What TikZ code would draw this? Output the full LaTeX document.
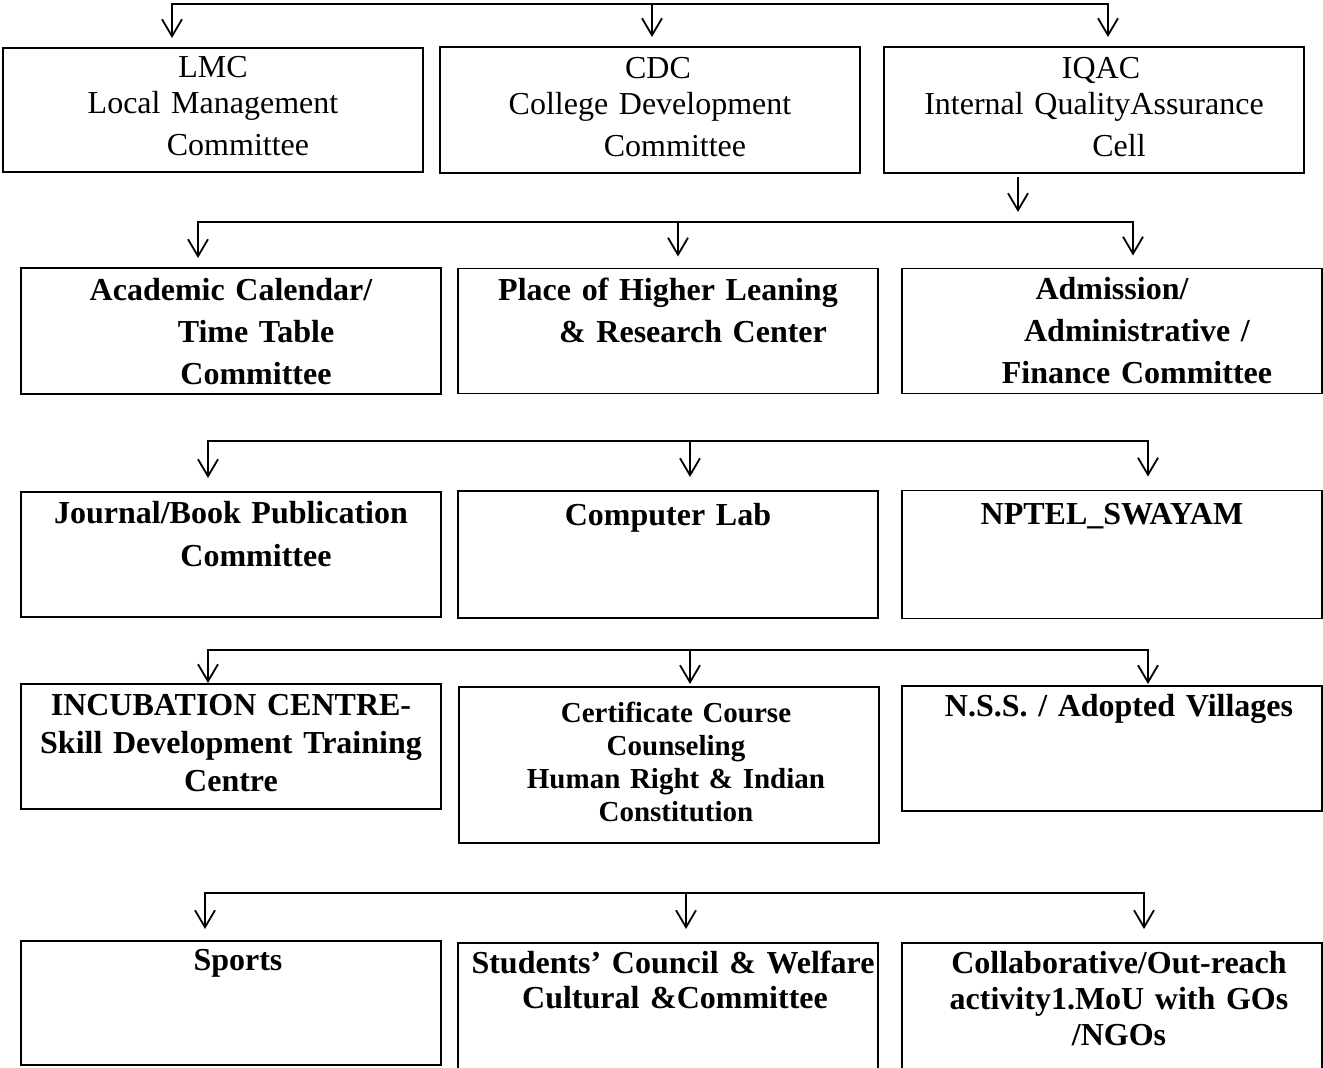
\documentclass[tikz,border=0pt]{standalone}
\usepackage{fontspec}
\setmainfont{Liberation Serif}
\usepackage{tikz}
\usetikzlibrary{arrows.meta, positioning, calc}

\newcommand{\indentline}{\hspace*{50pt}}

\begin{document}
\begin{tikzpicture}[
    x=1pt, y=-1pt,
    block/.style={draw, rectangle, line width=1.3pt, outer sep=0pt, minimum width=420pt, text width=420pt, inner sep=0pt, align=center, font=\fontsize{32}{42}\selectfont\bfseries},
    toprow/.style={font=\fontsize{32}{36}\selectfont},
    textpos/.style 2 args={text height=#1pt, text depth=#2pt},
    bus/.style={line width=1.5pt, line cap=rect},
    arrow/.style={line width=1.5pt, -{Straight Barb[length=17pt,width=20pt,line width=1.8pt]}}
]
\useasboundingbox (0,0) rectangle (1323,1068);

% Nodes
\node (lmc) [block, toprow, textpos={29}{95}, anchor=north west] at (3,48) {LMC\\Local Management\\[6pt]\indentline Committee};
\node (cdc) [block, toprow, textpos={31}{95}, right=17pt of lmc] {\hspace*{16pt}CDC\\College Development\\[6pt]\indentline Committee};
\node (iqac) [block, toprow, textpos={31}{95}, right=24pt of cdc] {\hspace*{14pt}IQAC\\Internal QualityAssurance\\[6pt]\indentline Cell};

\node (acad) [block, textpos={32}{94}, anchor=north west] at (21,268) {Academic Calendar/\\\indentline Time Table\\\indentline Committee};
\node (place) [block, textpos={32}{93}, right=17pt of acad] {Place of Higher Leaning\\\indentline\& Research Center};
\node (admin) [block, textpos={31}{94}, right=24pt of place] {Admission/\\\indentline Administrative /\\\indentline Finance Committee};

\node (journal) [block, textpos={31}{94}, anchor=north west] at (21,492) {Journal/Book Publication\\[1pt]\indentline Committee};
\node (lab) [block, textpos={34}{93}, right=17pt of journal] {Computer Lab};
\node (nptel) [block, textpos={34}{94}, right=24pt of lab] {NPTEL\_SWAYAM};

\node (incub) [block, textpos={31}{94}, font=\fontsize{32}{38}\selectfont\bfseries, anchor=north west] at (21,684) {INCUBATION CENTRE-\\Skill Development Training\\Centre};
\node (cert) [block, textpos={35}{121}, font=\fontsize{29}{33}\selectfont\bfseries, right=18pt of incub.north east, anchor=north west, yshift=-3pt] {\hspace*{14pt}Certificate Course\\\hspace*{14pt}Counseling\\\hspace*{14pt}Human Right \& Indian\\\hspace*{14pt}Constitution};
\node (nss) [block, textpos={30}{95}, right=23pt of cert.north east, anchor=north west, yshift=1pt] {\hspace*{14pt}N.S.S. / Adopted Villages};

\node (sports) [block, textpos={29}{95}, anchor=north west] at (21,941) {\hspace*{14pt}Sports};
\node (council) [block, textpos={30}{105}, font=\fontsize{32}{35}\selectfont\bfseries, right=17pt of sports.north east, anchor=north west, yshift=-2pt] {\hspace*{10pt}Students’ Council \& Welfare\\\hspace*{14pt}Cultural \&Committee};
\node (collab) [block, textpos={30}{105}, font=\fontsize{32}{36}\selectfont\bfseries, right=24pt of council.north east, anchor=north west] {\hspace*{14pt}Collaborative/Out-reach\\\hspace*{14pt}activity1.MoU with GOs\\\hspace*{14pt}/NGOs};

% Links
\coordinate (r1l) at (172,4);
\coordinate (r1m) at (652,4);
\coordinate (r1r) at (1108,4);
\draw[bus] (r1l) -- (r1r);
\draw[arrow, shorten >=10pt] (r1l) -- (r1l |- lmc.north);
\draw[arrow, shorten >=10pt] (r1m) -- (r1m |- cdc.north);
\draw[arrow, shorten >=10pt] (r1r) -- (r1r |- iqac.north);

\coordinate (iqacout) at (1018,212);
\draw[arrow, shorten <=4pt] (iqac.south -| iqacout) -- (iqacout);

\coordinate (r2l) at (198,222);
\coordinate (r2m) at (678,222);
\coordinate (r2r) at (1133,222);
\draw[bus] (r2l) -- (r2r);
\draw[arrow, shorten >=10pt] (r2l) -- (r2l |- acad.north);
\draw[arrow, shorten >=12pt] (r2m) -- (r2m |- place.north);
\draw[arrow, shorten >=13pt] (r2r) -- (r2r |- admin.north);

\coordinate (r3l) at (208,441);
\coordinate (r3m) at (690,441);
\coordinate (r3r) at (1148,441);
\draw[bus] (r3l) -- (r3r);
\draw[arrow, shorten >=14pt] (r3l) -- (r3l |- journal.north);
\draw[arrow, shorten >=14pt] (r3m) -- (r3m |- lab.north);
\draw[arrow, shorten >=14pt] (r3r) -- (r3r |- nptel.north);

\coordinate (r4l) at (208,650);
\coordinate (r4m) at (690,650);
\coordinate (r4r) at (1148,650);
\draw[bus] (r4l) -- (r4r);
\draw[arrow, shorten >=1pt] (r4l) -- (r4l |- incub.north);
\draw[arrow, shorten >=3pt] (r4m) -- (r4m |- cert.north);
\draw[arrow, shorten >=2pt] (r4r) -- (r4r |- nss.north);

\coordinate (r5l) at (205,893);
\coordinate (r5m) at (686,893);
\coordinate (r5r) at (1144,893);
\draw[bus] (r5l) -- (r5r);
\draw[arrow, shorten >=12pt] (r5l) -- (r5l |- sports.north);
\draw[arrow, shorten >=14pt] (r5m) -- (r5m |- council.north);
\draw[arrow, shorten >=14pt] (r5r) -- (r5r |- collab.north);

\end{tikzpicture}
\end{document}
